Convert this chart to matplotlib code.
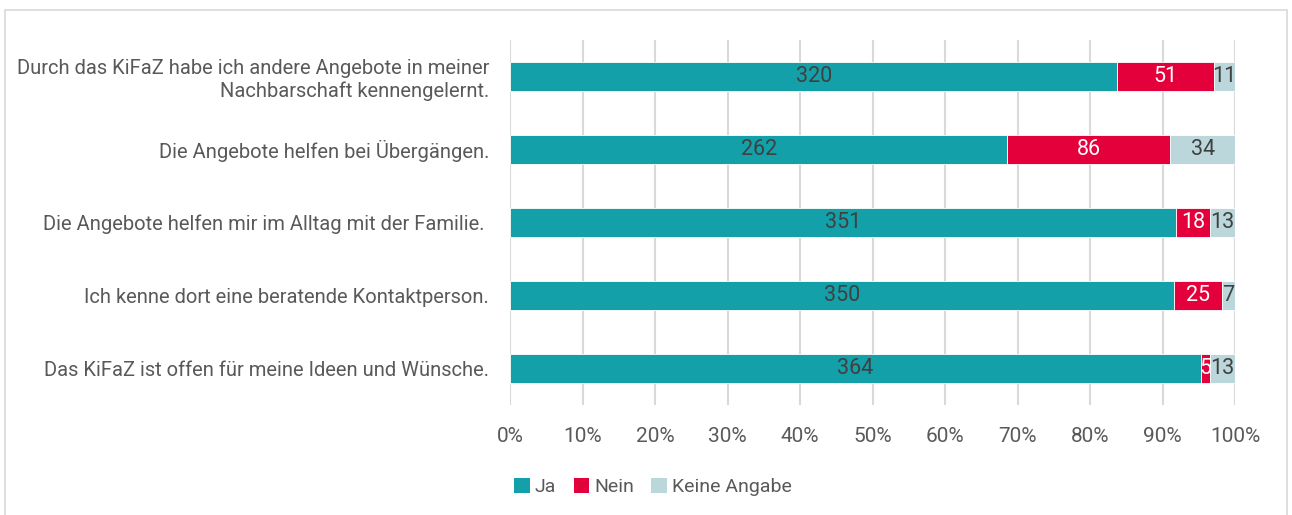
import matplotlib
matplotlib.use("Agg")
import matplotlib.pyplot as plt
from matplotlib.patches import Rectangle, Patch
import numpy as np

categories = [
    "Durch das KiFaZ habe ich andere Angebote in meiner\nNachbarschaft kennengelernt.",
    "Die Angebote helfen bei Übergängen.",
    "Die Angebote helfen mir im Alltag mit der Familie. ",
    "Ich kenne dort eine beratende Kontaktperson.",
    "Das KiFaZ ist offen für meine Ideen und Wünsche.",
]
ja = [320, 262, 351, 350, 364]
nein = [51, 86, 18, 25, 5]
keine = [11, 34, 13, 7, 13]
series_names = ["Ja", "Nein", "Keine Angabe"]
colors = ["#13A0A8", "#E4003A", "#BCD7DC"]
label_colors = ["#404040", "#FFFFFF", "#404040"]
xticks = [0, 10, 20, 30, 40, 50, 60, 70, 80, 90, 100]

plt.rcParams['font.family'] = ['Roboto', 'DejaVu Sans']
txt = "#595959"

fig = plt.figure(figsize=(12.92, 5.15), dpi=100)
ax = fig.add_axes([510/1292, 1-405/515, 725/1292, 365/515])

data = np.array([ja, nein, keine], dtype=float)
totals = data.sum(axis=0)
pct = data / totals * 100
y = np.arange(len(categories))
left = np.zeros(len(categories))
for i in range(3):
    ax.barh(y, pct[i], left=left, height=0.41, color=colors[i],
            edgecolor="white", linewidth=0.6, label=series_names[i], zorder=3)
    for j in range(len(categories)):
        ax.text(left[j] + pct[i][j] / 2, y[j], str(int(data[i][j])),
                ha="center", va="center", color=label_colors[i], fontsize=15.5, zorder=4)
    left += pct[i]

ax.set_xlim(0, 100)
ax.set_ylim(len(categories) - 0.5, -0.5)
ax.set_yticks(y)
ax.set_yticklabels(categories, fontsize=14.5, color=txt, ha="right", multialignment="right")
ax.set_xticks(xticks)
ax.set_xticklabels([f"{v}%" for v in xticks], fontsize=15, color=txt)
ax.tick_params(axis="both", length=0)
ax.tick_params(axis="x", pad=16)
ax.tick_params(axis="y", pad=15)
for s in ax.spines.values():
    s.set_visible(False)
ax.grid(axis="x", color="#D9D9D9", linewidth=1.5, zorder=0)
ax.set_axisbelow(True)

handles = [Patch(facecolor=c, edgecolor="none") for c in colors]
fig.legend(handles, series_names, loc="center", bbox_to_anchor=(653/1292, 1-487/515),
           ncol=3, frameon=False, fontsize=14, labelcolor=txt,
           handlelength=0.8, handleheight=0.8, handletextpad=0.25, columnspacing=0.9)

fig.patches.append(Rectangle((5/1292, -0.1), 1282/1292, 1.1 - 10/515, transform=fig.transFigure,
                             fill=False, edgecolor="#D9D9D9", linewidth=1.2))

fig.savefig("out.png", dpi=100)
